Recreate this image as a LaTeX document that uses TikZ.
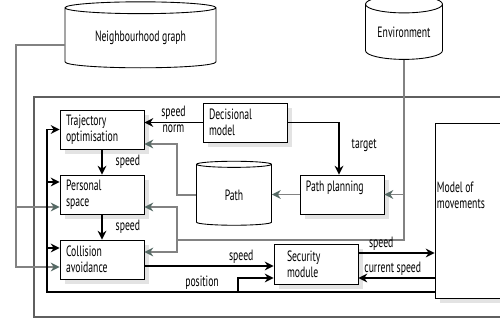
\documentclass[tikz,border=0pt]{standalone}
\usepackage{fontspec}
\setmainfont{PT Sans}[FakeStretch=0.65]
\usetikzlibrary{shapes.geometric,positioning,shadows,arrows.meta}
\definecolor{grln}{RGB}{130,130,130}
\definecolor{grtip}{RGB}{85,105,100}
\definecolor{framec}{RGB}{95,95,95}
\tikzset{box/.style={draw,fill=white,line width=0.5pt,minimum width=1.68cm,minimum height=0.78cm,text width=1.44cm,inner xsep=0.12cm,inner ysep=0pt,align=left,drop shadow={shadow xshift=0.1cm,shadow yshift=-0.1cm,opacity=0.22,fill=gray}},
  db/.style={cylinder,shape border rotate=90,draw,line width=0.5pt,fill=white,inner sep=0pt},
  blk/.style={line width=1.1pt,-{Stealth[length=5pt,width=5pt]}},
  gry/.style={grln,line width=0.9pt,-{Stealth[length=5pt,width=5pt,color=grtip]}},
  lbl/.style={inner sep=1pt}}
\begin{document}
\begin{tikzpicture}[x=0.02cm,y=-0.02cm,font=\fontsize{8.5}{9}\selectfont]
        \useasboundingbox (0,0) rectangle (500,323);
        \draw[framec,line width=0.6pt] (520,97) -- (34,97) -- (34,317) -- (520,317);

        \node[db,minimum width=3.02cm,minimum height=1.32cm,aspect=0.13] (ng) at (140.5,38) {Neighbourhood graph};
        \node[db,minimum width=1.54cm,minimum height=1.28cm,aspect=0.33] (env) at (404,32) {Environment};
        \node[db,minimum width=1.5cm,minimum height=1.28cm,aspect=0.33] (path) at (234,195) {Path};

        \node[box] (traj) at (102,129.5) {Trajectory\\optimisation};
        \node[box] (pers) at (102,194.5) {Personal\\space};
        \node[box] (coll) at (102,259.5) {Collision\\avoidance};
        \node[box] (dec) at (245,122.5) {Decisional\\model};
        \node[box,label={[anchor=north west,inner sep=0.12cm]north west:Path planning}] (plan) at (342,194.5) {};
        \node[box,text width=1.16cm,inner xsep=0.26cm,minimum height=0.8cm] (sec) at (316,264) {Security\\module};
        \node[box,minimum width=1.66cm,minimum height=3.5cm,text width=1.5cm,
              label={[anchor=north west,inner sep=0.04cm,yshift=-1.15cm,align=left]north west:Model of\\movements}] (mov) at (478.5,210.5) {};

        \coordinate (nl) at (16,45);
        \coordinate (np) at (16,207);
        \coordinate (pj) at (177,144);
        \coordinate (ec) at (404,240);
        \coordinate (ep) at (404,194.5);
        \coordinate (ej) at (177,240);
        \coordinate (bus) at (47,292);
        \coordinate (bp) at (47,182);
        \coordinate (bc) at (47,248);
        \coordinate (pb) at (238,292);
        \coordinate (mb) at (mov.west |- 0,292);

        % grey links
        \draw[gry] (ng.west |- nl) -- (nl) |- ([yshift=-0.15cm]coll.west);
        \draw[gry] (np) -- (pers.west |- np);
        \draw[gry] (path.west) -| (pj) -- (traj.east |- pj);
        \draw[gry] (plan.west) -- (path.east |- plan.west);
        \draw[grln,line width=0.9pt] (env.south) -- (ec) -- (ej);
        \draw[gry] (ej) |- ([yshift=-0.25cm]pers.east);
        \draw[gry] (ej) |- ([yshift=0.15cm]coll.east);
        \draw[gry] (ep) -- (plan.east);

        % black links
        \draw[blk] (dec.west) -- node[lbl,above]{speed} node[lbl,below]{norm} (traj.east |- dec.west);
        \draw[blk] (dec.east) -| node[lbl,right,pos=0.72,xshift=0.2cm]{target} ([xshift=-0.06cm]plan.north);
        \draw[blk] (traj.south) -- node[lbl,right,xshift=0.22cm]{speed} (pers.north);
        \draw[blk] (pers.south) -- node[lbl,right,xshift=0.22cm]{speed} (coll.north);
        \draw[blk] ([yshift=-0.13cm]coll.east) -- node[lbl,above,pos=0.75]{speed} ([yshift=-0.13cm]coll.east -| sec.west);
        \draw[blk] ([yshift=0.22cm]sec.east) -- node[lbl,above,pos=0.3]{speed} ([yshift=0.22cm]sec.east -| mov.west);
        \draw[blk] ([yshift=-0.28cm]sec.east -| mov.west) -- node[lbl,above,pos=0.55]{current speed} ([yshift=-0.28cm]sec.east);
        \draw[blk] (mb) -- node[lbl,above,pos=0.6]{position} (bus) |- (traj.west);
        \draw[blk] (bp) -- (pers.west |- bp);
        \draw[blk] (bc) -- (coll.west |- bc);
        \draw[blk] (pb) |- ([yshift=-0.28cm]sec.west);
    \end{tikzpicture}
\end{document}
